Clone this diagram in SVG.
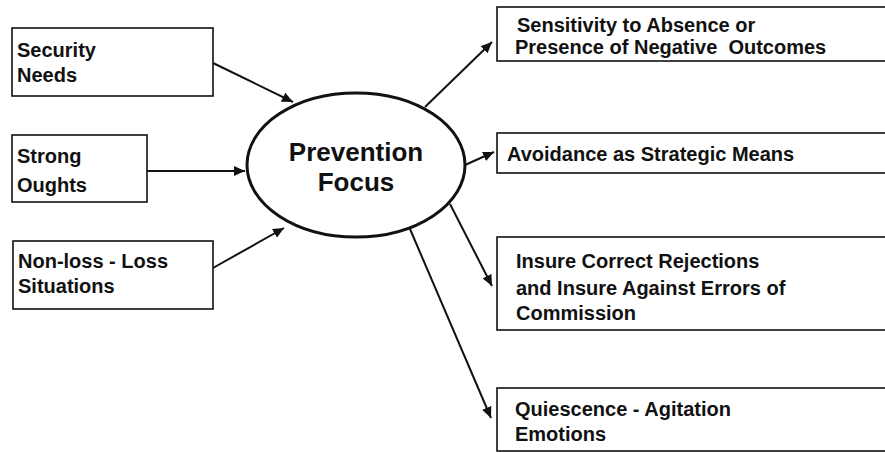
<svg xmlns="http://www.w3.org/2000/svg" width="885" height="453" viewBox="0 0 885 453">
<style>
.box{fill:#fff;stroke:#111;stroke-width:1.6}
.t{font-family:"Liberation Sans",Arial,sans-serif;font-weight:bold;font-size:20px;fill:#111}
.big{font-family:"Liberation Sans",Arial,sans-serif;font-weight:bold;font-size:26px;fill:#111}
.c{stroke:#111;stroke-width:2;fill:none;marker-end:url(#ah)}
</style>
<defs>
<marker id="ah" markerUnits="userSpaceOnUse" markerWidth="12" markerHeight="10" refX="11" refY="5" orient="auto">
<path d="M0,0 L11,5 L0,10 Z" fill="#111"/>
</marker>
</defs>
<rect width="885" height="453" fill="#fff"/>
<g id="connectors">
<line class="c" x1="213" y1="63" x2="293" y2="102"/>
<line class="c" x1="147" y1="171" x2="245" y2="171"/>
<line class="c" x1="213" y1="268" x2="284" y2="228"/>
<line class="c" x1="425" y1="107" x2="492" y2="42"/>
<line class="c" x1="465" y1="165" x2="494" y2="152"/>
<line class="c" x1="450" y1="204" x2="492" y2="286"/>
<line class="c" x1="410" y1="229" x2="491" y2="418"/>
</g>
<g id="security-needs">
<rect class="box" x="12" y="28" width="201" height="68"/>
<text class="t" x="17" y="57">Security</text>
<text class="t" x="17" y="82">Needs</text>
</g>
<g id="strong-oughts">
<rect class="box" x="12" y="135" width="135" height="67"/>
<text class="t" x="17" y="163">Strong</text>
<text class="t" x="17" y="192">Oughts</text>
</g>
<g id="non-loss">
<rect class="box" x="13" y="241" width="200" height="68"/>
<text class="t" x="18" y="268">Non-loss - Loss</text>
<text class="t" x="18" y="293">Situations</text>
</g>
<g id="prevention-focus">
<ellipse cx="356" cy="165" rx="109" ry="72" fill="#fff" stroke="#111" stroke-width="3"/>
<text class="big" x="356" y="161" text-anchor="middle">Prevention</text>
<text class="big" x="356" y="191" text-anchor="middle">Focus</text>
</g>
<g id="sensitivity">
<rect class="box" x="497" y="7" width="395" height="54"/>
<text class="t" x="517" y="32">Sensitivity to Absence or</text>
<text class="t" x="515" y="54" xml:space="preserve">Presence of Negative  Outcomes</text>
</g>
<g id="avoidance">
<rect class="box" x="497" y="133" width="395" height="40"/>
<text class="t" x="507" y="161">Avoidance as Strategic Means</text>
</g>
<g id="insure">
<rect class="box" x="497" y="237" width="395" height="93"/>
<text class="t" x="516" y="268">Insure Correct Rejections</text>
<text class="t" x="516" y="295">and Insure Against Errors of</text>
<text class="t" x="516" y="320">Commission</text>
</g>
<g id="quiescence">
<rect class="box" x="497" y="388" width="395" height="63"/>
<text class="t" x="515" y="416">Quiescence - Agitation</text>
<text class="t" x="515" y="441">Emotions</text>
</g>
</svg>
